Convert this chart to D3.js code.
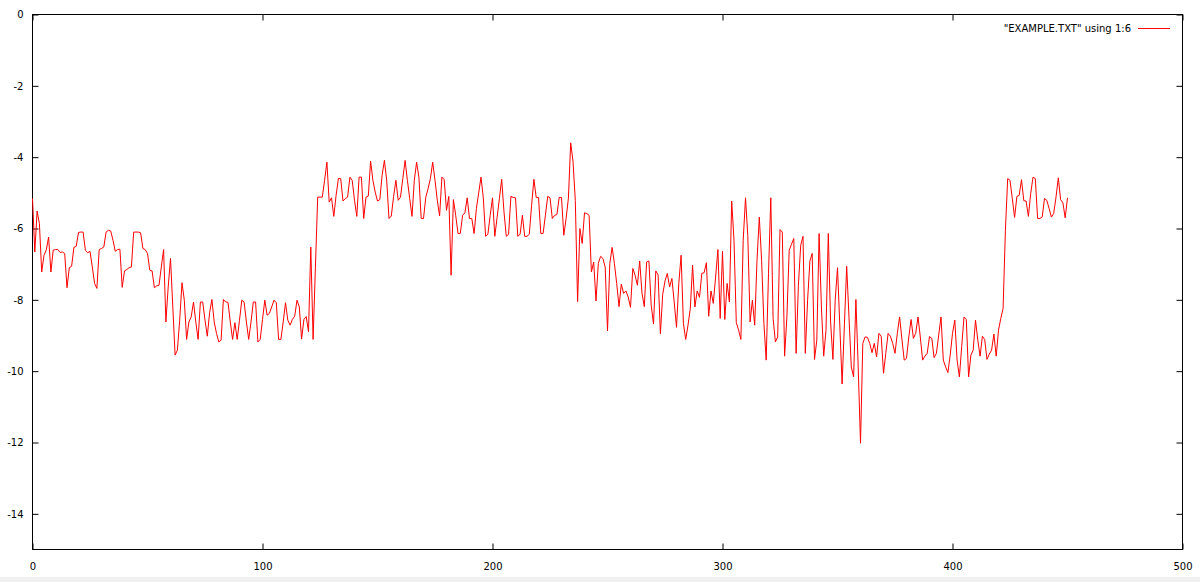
<!DOCTYPE html>
<html>
<head>
<meta charset="utf-8">
<script src="https://cdn.jsdelivr.net/npm/d3@7"></script>
<style>
  body { margin: 0; background: #fff; }
  text { font-family: "DejaVu Sans", sans-serif; font-size: 10px; fill: #000; }
</style>
</head>
<body>
<div class="chart"></div>
<script>
// gnuplot style line plot: "EXAMPLE.TXT" using 1:6

var legendLabel = '"EXAMPLE.TXT" using 1:6';
var xTicks = [0, 100, 200, 300, 400, 500];
var yTicks = [0, -2, -4, -6, -8, -10, -12, -14];

// column 6, one value per row (column 1 is the row number 0..450)
var col6 = [
  -5.16, -6.66, -5.51, -5.86, -7.22, -6.75, -6.60, -6.24, -7.22, -6.61,
  -6.59, -6.59, -6.67, -6.66, -6.70, -7.66, -7.10, -7.06, -6.53, -6.50,
  -6.11, -6.10, -6.10, -6.61, -6.68, -6.64, -7.08, -7.54, -7.68, -6.59,
  -6.56, -6.52, -6.10, -6.05, -6.07, -6.33, -6.64, -6.59, -6.58, -7.65,
  -7.19, -7.15, -7.10, -7.08, -6.10, -6.10, -6.10, -6.12, -6.56, -6.59,
  -6.70, -7.17, -7.19, -7.66, -7.61, -7.59, -7.08, -6.59, -8.62, -7.64,
  -6.84, -8.20, -9.55, -9.41, -8.57, -7.52, -8.01, -9.11, -8.62, -8.48,
  -8.06, -8.62, -9.11, -8.06, -8.06, -8.57, -9.02, -8.36, -7.99, -8.62,
  -8.94, -9.18, -9.13, -7.99, -8.06, -8.07, -8.62, -9.11, -8.64, -9.11,
  -8.57, -8.01, -8.06, -8.62, -9.11, -8.62, -8.06, -8.06, -9.18, -9.11,
  -8.55, -8.01, -8.43, -8.38, -8.20, -8.01, -8.08, -9.11, -9.11, -8.62,
  -8.08, -8.57, -8.71, -8.55, -8.46, -8.01, -8.20, -9.10, -8.55, -8.47,
  -8.89, -6.52, -9.11, -7.10, -5.12, -5.12, -5.12, -4.65, -4.14, -5.26,
  -5.14, -5.66, -5.07, -4.60, -4.60, -5.23, -5.16, -5.12, -4.56, -4.65,
  -5.21, -5.66, -4.56, -4.56, -5.72, -5.12, -5.09, -4.11, -4.65, -4.98,
  -5.23, -5.19, -4.51, -4.09, -4.65, -5.72, -5.65, -5.10, -4.65, -5.21,
  -5.12, -4.60, -4.09, -4.65, -5.16, -5.66, -4.65, -4.14, -4.56, -5.72,
  -5.72, -5.12, -4.88, -4.60, -4.14, -4.65, -5.21, -5.65, -4.56, -4.63,
  -5.49, -5.10, -7.31, -5.19, -5.63, -6.14, -6.14, -5.63, -5.56, -5.14,
  -5.72, -5.72, -6.14, -5.44, -5.00, -4.56, -5.14, -6.22, -6.16, -5.63,
  -5.14, -6.22, -5.69, -5.16, -4.62, -5.54, -6.22, -6.16, -5.10, -5.13,
  -5.14, -6.22, -6.16, -5.63, -6.22, -6.22, -6.16, -5.35, -4.62, -5.13,
  -5.13, -6.14, -6.14, -5.63, -5.10, -5.14, -5.72, -5.63, -5.61, -5.13,
  -5.13, -6.19, -5.72, -5.15, -3.60, -4.12, -5.21, -8.05, -6.00, -6.42,
  -5.56, -5.58, -5.63, -7.22, -6.94, -8.03, -6.98, -6.78, -6.84, -7.08,
  -8.87, -6.98, -6.53, -6.98, -7.54, -8.19, -7.56, -7.82, -7.75, -7.92,
  -8.21, -7.12, -7.31, -7.59, -6.91, -7.82, -8.19, -6.94, -6.91, -8.15,
  -8.68, -7.19, -7.30, -8.95, -7.85, -7.47, -7.26, -7.64, -7.40, -8.06,
  -8.77, -7.54, -6.75, -8.66, -9.11, -8.71, -8.24, -7.03, -8.20, -7.75,
  -7.93, -7.26, -7.24, -6.96, -8.46, -7.75, -8.10, -7.36, -6.59, -8.52,
  -6.64, -8.55, -7.54, -8.06, -5.23, -6.33, -8.64, -8.85, -9.11, -6.33,
  -5.14, -6.20, -8.62, -8.01, -8.71, -6.89, -5.68, -6.89, -8.66, -9.69,
  -7.26, -5.14, -8.52, -9.18, -9.04, -6.03, -6.10, -9.58, -8.48, -6.61,
  -6.44, -6.28, -9.50, -7.59, -6.47, -6.22, -9.50, -8.01, -6.91, -6.70,
  -9.67, -9.13, -6.14, -8.20, -9.58, -8.85, -6.14, -8.62, -9.67, -8.01,
  -7.10, -8.71, -10.36, -8.70, -7.06, -8.50, -9.88, -10.16, -7.99, -9.88,
  -12.02, -9.22, -9.04, -9.05, -9.22, -9.48, -9.22, -9.60, -8.94, -9.02,
  -10.06, -9.50, -8.94, -9.02, -9.22, -9.50, -8.94, -8.48, -9.10, -9.69,
  -9.64, -9.04, -8.55, -9.08, -8.94, -8.48, -9.04, -9.69, -9.58, -9.50,
  -9.03, -9.08, -9.62, -9.50, -8.99, -8.48, -9.69, -9.88, -10.04, -9.55,
  -8.94, -8.57, -9.69, -10.16, -9.31, -8.48, -8.55, -10.16, -9.55, -9.41,
  -8.57, -9.13, -9.58, -9.02, -9.11, -9.67, -9.52, -9.41, -8.96, -9.58,
  -8.85, -8.52, -8.24, -6.05, -4.60, -4.65, -5.16, -5.69, -5.10, -5.07,
  -4.63, -5.22, -5.23, -5.66, -5.02, -4.56, -4.60, -5.72, -5.72, -5.68,
  -5.16, -5.21, -5.44, -5.68, -5.58, -5.12, -4.58, -5.19, -5.28, -5.70,
  -5.14
];

var svgWidth = 1200;
var svgHeight = 582;

var plot = { left: 32.5, right: 1182.5, top: 14.5, bottom: 549.5 };

var svg = d3.select(".chart")
    .append("svg")
    .attr("width", svgWidth)
    .attr("height", svgHeight)
    .style("display", "block");

svg.append("rect")
    .attr("width", svgWidth)
    .attr("height", svgHeight)
    .attr("fill", "#fff");

var x = d3.scaleLinear().domain([0, 500]).range([plot.left, plot.right]);
var y = d3.scaleLinear().domain([-15, 0]).range([plot.bottom, plot.top]);

var data = col6.map(function(v, i) { return { x: i, y: v }; });

// plain hyphen minus like gnuplot, not the unicode minus d3 uses
var plainNum = function(d) { return String(d); };

// axes, gnuplot puts the ticks inside and mirrors them
var tickLen = 6;

svg.append("g")
    .attr("transform", "translate(" + plot.left + ",0)")
    .call(d3.axisLeft(y).tickValues(yTicks).tickSize(-tickLen).tickPadding(9).tickFormat(plainNum));

svg.append("g")
    .attr("transform", "translate(" + plot.right + ",0)")
    .call(d3.axisRight(y).tickValues(yTicks).tickSize(-tickLen).tickFormat(""));

svg.append("g")
    .attr("transform", "translate(0," + plot.bottom + ")")
    .call(d3.axisBottom(x).tickValues(xTicks).tickSize(-tickLen).tickPadding(13).tickFormat(plainNum));

svg.append("g")
    .attr("transform", "translate(0," + plot.top + ")")
    .call(d3.axisTop(x).tickValues(xTicks).tickSize(-tickLen).tickFormat(""));

svg.selectAll(".domain").remove();
svg.selectAll(".tick line").attr("stroke", "#000");
svg.selectAll(".tick text")
    .style("font-family", "'DejaVu Sans', sans-serif")
    .style("font-size", "10px")
    .attr("fill", "#000");

svg.append("rect")
    .attr("x", plot.left)
    .attr("y", plot.top)
    .attr("width", plot.right - plot.left)
    .attr("height", plot.bottom - plot.top)
    .attr("fill", "none")
    .attr("stroke", "#000")
    .attr("stroke-width", 1);

var line = d3.line()
    .x(function(d) { return x(d.x); })
    .y(function(d) { return y(d.y); });

svg.append("path")
    .datum(data)
    .attr("d", line)
    .attr("fill", "none")
    .attr("stroke", "#ff0000")
    .attr("stroke-width", 1)
    .attr("stroke-linejoin", "miter");

// key, top right
var key = svg.append("g").attr("transform", "translate(1138,28.5)");
key.append("text")
    .attr("x", -7)
    .attr("dy", "0.35em")
    .attr("text-anchor", "end")
    .text(legendLabel);
key.append("line")
    .attr("x1", 0)
    .attr("x2", 32)
    .attr("stroke", "#ff0000")
    .attr("stroke-width", 1);

// thin grey strip at the bottom edge of the window
svg.append("rect")
    .attr("x", 0)
    .attr("y", 577)
    .attr("width", svgWidth)
    .attr("height", 5)
    .attr("fill", "#f0f0f0");
</script>
</body>
</html>
